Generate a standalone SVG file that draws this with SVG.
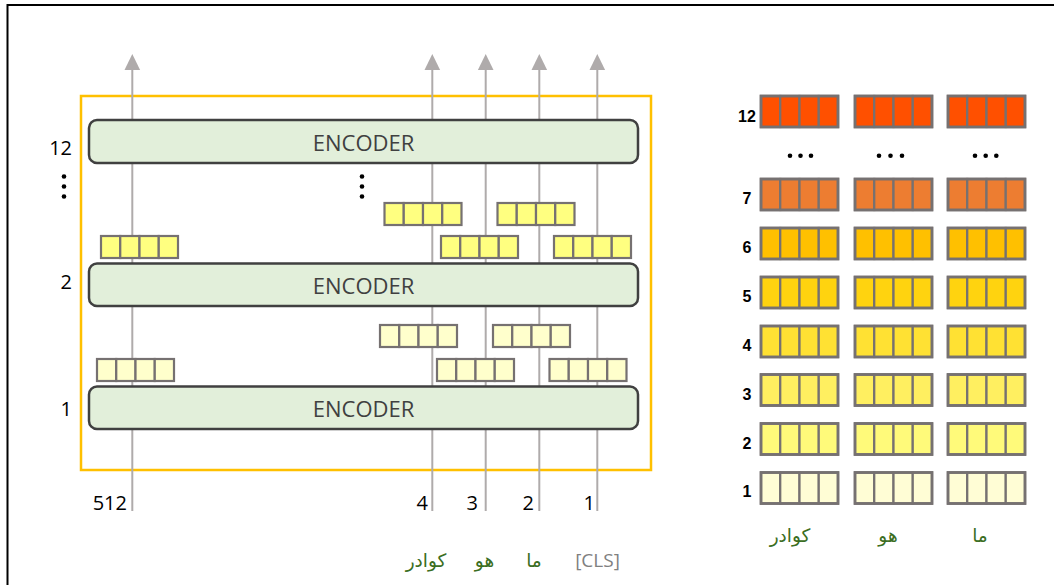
<svg xmlns="http://www.w3.org/2000/svg" xmlns:xlink="http://www.w3.org/1999/xlink" width="1054" height="585" viewBox="0 0 1054 585">
<style>
.conn{stroke:#AFABAB;stroke-width:2;fill:none}
.head{fill:#AFABAB}
.enc{fill:#E2EFDA;stroke:#404040;stroke-width:2.5}
.enct{font-family:"Open Sans","Liberation Sans",sans-serif;font-size:22px;fill:#404040;text-anchor:middle}
.num{font-family:"Open Sans","Liberation Sans",sans-serif;font-size:20px;fill:#000}
.bnum{font-family:"Liberation Sans",Arial,sans-serif;font-weight:bold;font-size:16px;fill:#000;text-anchor:middle}
.ar{font-family:"DejaVu Sans","Noto Sans",sans-serif;font-size:18.5px;fill:#3B6E22;text-anchor:middle}
.cls{font-family:"Open Sans","Liberation Sans",sans-serif;font-size:19px;fill:#808080;text-anchor:middle}
.cell{stroke:#767171;stroke-width:2.2}
</style>
<defs>
<g id="vs">
<rect class="cell" x="0" y="0" width="19.25" height="22"/>
<rect class="cell" x="19.25" y="0" width="19.25" height="22"/>
<rect class="cell" x="38.5" y="0" width="19.25" height="22"/>
<rect class="cell" x="57.75" y="0" width="19.25" height="22"/>
</g>
<g id="vl">
<rect class="cell" x="0" y="0" width="19.25" height="31"/>
<rect class="cell" x="19.25" y="0" width="19.25" height="31"/>
<rect class="cell" x="38.5" y="0" width="19.25" height="31"/>
<rect class="cell" x="57.75" y="0" width="19.25" height="31"/>
<rect x="0" y="0" width="77" height="31" fill="none" stroke="#767171" stroke-width="2.8"/>
</g>
</defs>
<rect width="1054" height="585" fill="#FFFFFF"/>
<path d="M7.5,585 V5 H1054" fill="none" stroke="#000" stroke-width="2"/>
<g id="frame">
<rect x="81" y="96" width="570" height="374" fill="none" stroke="#FFC000" stroke-width="2.5"/>
</g>
<g id="connectors">
<line class="conn" x1="132.3" y1="66" x2="132.3" y2="511"/>
<line class="conn" x1="432.3" y1="66" x2="432.3" y2="511"/>
<line class="conn" x1="485.7" y1="66" x2="485.7" y2="511"/>
<line class="conn" x1="539.3" y1="66" x2="539.3" y2="511"/>
<line class="conn" x1="597.3" y1="66" x2="597.3" y2="511"/>
<polygon class="head" points="132.3,54 124.5,70 140.1,70"/>
<polygon class="head" points="432.3,54 424.5,70 440.1,70"/>
<polygon class="head" points="485.7,54 477.9,70 493.5,70"/>
<polygon class="head" points="539.3,54 531.5,70 547.1,70"/>
<polygon class="head" points="597.3,54 589.5,70 605.1,70"/>
</g>
<g id="encoder12">
<rect class="enc" x="89" y="120" width="549" height="43" rx="8"/>
<text class="enct" x="363.5" y="151">ENCODER</text>
</g>
<g id="encoder2">
<rect class="enc" x="89" y="263.5" width="549" height="42.5" rx="8"/>
<text class="enct" x="363.5" y="294">ENCODER</text>
</g>
<g id="encoder1">
<rect class="enc" x="89" y="386.5" width="549" height="42.5" rx="8"/>
<text class="enct" x="363.5" y="417">ENCODER</text>
</g>
<g id="vectors-layer1" fill="#FFFFCC">
<use xlink:href="#vs" x="97" y="359"/>
<use xlink:href="#vs" x="437" y="359"/>
<use xlink:href="#vs" x="549.5" y="359"/>
<use xlink:href="#vs" x="380" y="325"/>
<use xlink:href="#vs" x="493" y="325"/>
</g>
<g id="vectors-layer2" fill="#FFFF80">
<use xlink:href="#vs" x="101" y="236"/>
<use xlink:href="#vs" x="441" y="236"/>
<use xlink:href="#vs" x="554" y="236"/>
<use xlink:href="#vs" x="384.5" y="203"/>
<use xlink:href="#vs" x="497.5" y="203"/>
</g>
<g id="left-dots" fill="#000">
<circle cx="64" cy="176.5" r="2.3"/>
<circle cx="64" cy="186.5" r="2.3"/>
<circle cx="64" cy="196.5" r="2.3"/>
<circle cx="362" cy="176.5" r="2.3"/>
<circle cx="362" cy="186.5" r="2.3"/>
<circle cx="362" cy="196.5" r="2.3"/>
</g>
<g id="layer-labels">
<text class="num" x="72" y="155" text-anchor="end">12</text>
<text class="num" x="72" y="289" text-anchor="end">2</text>
<text class="num" x="72" y="416" text-anchor="end">1</text>
</g>
<g id="position-labels">
<text class="num" x="127" y="510" text-anchor="end">512</text>
<text class="num" x="428" y="510" text-anchor="end">4</text>
<text class="num" x="478" y="510" text-anchor="end">3</text>
<text class="num" x="534" y="510" text-anchor="end">2</text>
<text class="num" x="595" y="510" text-anchor="end">1</text>
</g>
<g id="token-labels">
<text class="ar" x="426" y="567">كوادر</text>
<text class="ar" x="484.5" y="567">هو</text>
<text class="ar" x="534" y="567">ما</text>
<text class="cls" x="597.5" y="567">[CLS]</text>
</g>
<g id="right-panel">
<g id="row12" fill="#FF5000"><text class="bnum" x="747" y="121.5">12</text><use xlink:href="#vl" x="761" y="96"/><use xlink:href="#vl" x="855" y="96"/><use xlink:href="#vl" x="948" y="96"/></g>
<g id="row-dots" fill="#000">
<circle cx="790" cy="155.7" r="2.3"/><circle cx="800.5" cy="155.7" r="2.3"/><circle cx="811" cy="155.7" r="2.3"/>
<circle cx="879" cy="155.7" r="2.3"/><circle cx="890.5" cy="155.7" r="2.3"/><circle cx="902" cy="155.7" r="2.3"/>
<circle cx="975" cy="155.7" r="2.3"/><circle cx="985.7" cy="155.7" r="2.3"/><circle cx="996.3" cy="155.7" r="2.3"/>
</g>
<g id="row7" fill="#ED7D31"><text class="bnum" x="747" y="204">7</text><use xlink:href="#vl" x="761" y="179"/><use xlink:href="#vl" x="855" y="179"/><use xlink:href="#vl" x="948" y="179"/></g>
<g id="row6" fill="#FFC000"><text class="bnum" x="747" y="253">6</text><use xlink:href="#vl" x="761" y="228"/><use xlink:href="#vl" x="855" y="228"/><use xlink:href="#vl" x="948" y="228"/></g>
<g id="row5" fill="#FFD30F"><text class="bnum" x="747" y="302">5</text><use xlink:href="#vl" x="761" y="277"/><use xlink:href="#vl" x="855" y="277"/><use xlink:href="#vl" x="948" y="277"/></g>
<g id="row4" fill="#FFE133"><text class="bnum" x="747" y="351">4</text><use xlink:href="#vl" x="761" y="326"/><use xlink:href="#vl" x="855" y="326"/><use xlink:href="#vl" x="948" y="326"/></g>
<g id="row3" fill="#FFEF60"><text class="bnum" x="747" y="399.5">3</text><use xlink:href="#vl" x="761" y="374.5"/><use xlink:href="#vl" x="855" y="374.5"/><use xlink:href="#vl" x="948" y="374.5"/></g>
<g id="row2" fill="#FFFA7A"><text class="bnum" x="747" y="448.5">2</text><use xlink:href="#vl" x="761" y="423.5"/><use xlink:href="#vl" x="855" y="423.5"/><use xlink:href="#vl" x="948" y="423.5"/></g>
<g id="row1" fill="#FFFDD5"><text class="bnum" x="747" y="497">1</text><use xlink:href="#vl" x="761" y="472.5"/><use xlink:href="#vl" x="855" y="472.5"/><use xlink:href="#vl" x="948" y="472.5"/></g>
<g id="right-tokens">
<text class="ar" x="790" y="542">كوادر</text>
<text class="ar" x="888" y="542">هو</text>
<text class="ar" x="980" y="542">ما</text>
</g>
</g>
</svg>
